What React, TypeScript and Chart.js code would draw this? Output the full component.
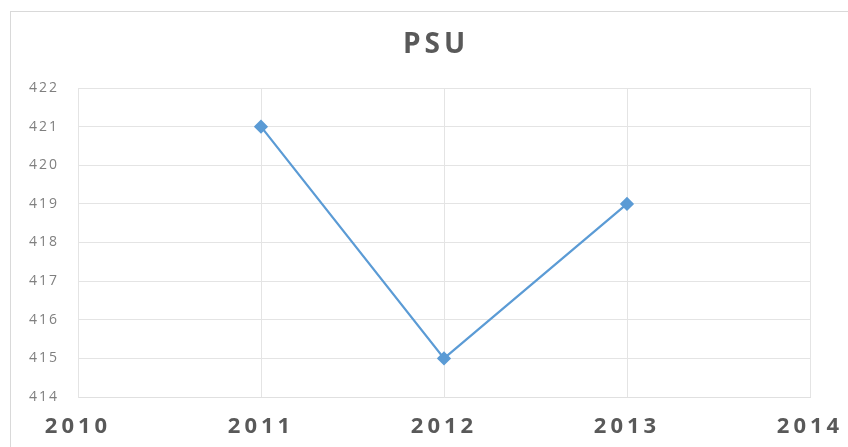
import React, { useEffect, useRef } from "react";
import { Chart, registerables } from "chart.js";

Chart.register(...registerables);

const years = [2011, 2012, 2013];
const psuValues = [421, 415, 419];
const xMin = 2010;
const xMax = 2014;
const yMin = 414;
const yMax = 422;
const titleText = "PSU";

const W = 848;
const H = 447;

export default function App() {
  const ref = useRef<HTMLCanvasElement | null>(null);

  useEffect(() => {
    document.body.style.margin = "0";
    document.body.style.overflow = "hidden";
    const canvas = ref.current;
    if (!canvas) return;

    const spacing = {
      id: "spacing",
      beforeDraw(chart: any) {
        (chart.ctx as any).letterSpacing = "4px";
        const ys = chart.scales.y;
        if (ys && !ys.__patched) {
          const orig = ys.drawLabels;
          ys.drawLabels = function (area: any) {
            const c = this.ctx as any;
            const prev = c.letterSpacing;
            c.letterSpacing = "2px";
            orig.call(this, area);
            c.letterSpacing = prev;
          };
          ys.__patched = true;
        }
      },
      afterDraw(chart: any) {
        const ctx = chart.ctx as any;
        ctx.save();
        ctx.letterSpacing = "4px";
        ctx.font = 'bold 28px "Open Sans"';
        ctx.fillStyle = "#595959";
        ctx.textAlign = "center";
        ctx.textBaseline = "middle";
        ctx.fillText(titleText, 436, 45);
        ctx.restore();
      },
    };

    const chart = new Chart(canvas, {
      type: "line",
      data: {
        datasets: [
          {
            label: titleText,
            data: years.map((y, i) => ({ x: y, y: psuValues[i] })),
            borderColor: "#5b9bd5",
            backgroundColor: "#5b9bd5",
            borderWidth: 2.25,
            pointStyle: "rectRot",
            pointRadius: 5.5,
            pointHoverRadius: 5.5,
            tension: 0,
          },
        ],
      },
      options: {
        animation: false,
        responsive: false,
        devicePixelRatio: 1,
        layout: { padding: { left: 10, right: 38, top: 88, bottom: 0 } },
        plugins: {
          legend: { display: false },
          tooltip: { enabled: false },
          title: { display: false },
        },
        scales: {
          x: {
            type: "linear",
            min: xMin,
            max: xMax,
            ticks: {
              stepSize: 1,
              color: "#595959",
              padding: 17,
              font: { family: "Open Sans", size: 22, weight: "bold", lineHeight: 1.2 },
              callback: (v: any) => String(v),
              maxRotation: 0,
              autoSkip: false,
            },
            grid: { color: "#e4e4e4", drawTicks: false, lineWidth: 1 },
            border: { color: "#e0e0e0" },
            afterFit: (s: any) => {
              s.height = 50;
              s.paddingLeft = 0;
              s.paddingRight = 0;
            },
          },
          y: {
            min: yMin,
            max: yMax,
            ticks: {
              stepSize: 1,
              color: "#7f7f7f",
              padding: 19,
              font: { family: "Open Sans", size: 14 },
            },
            grid: { color: "#e4e4e4", drawTicks: false, lineWidth: 1 },
            border: { color: "#e4e4e4" },
            afterFit: (s: any) => {
              s.width = 68;
              s.paddingTop = 0;
              s.paddingBottom = 0;
            },
          },
        },
      },
      plugins: [spacing],
    } as any);

    return () => chart.destroy();
  }, []);

  return (
    <div style={{ position: "relative", width: W, height: H, overflow: "hidden", background: "#fff" }}>
      <div
        style={{
          position: "absolute",
          left: 10,
          top: 11,
          width: 900,
          height: 500,
          border: "1px solid #d9d9d9",
        }}
      />
      <canvas ref={ref} width={W} height={H} style={{ position: "absolute", left: 0, top: 0 }} />
    </div>
  );
}
